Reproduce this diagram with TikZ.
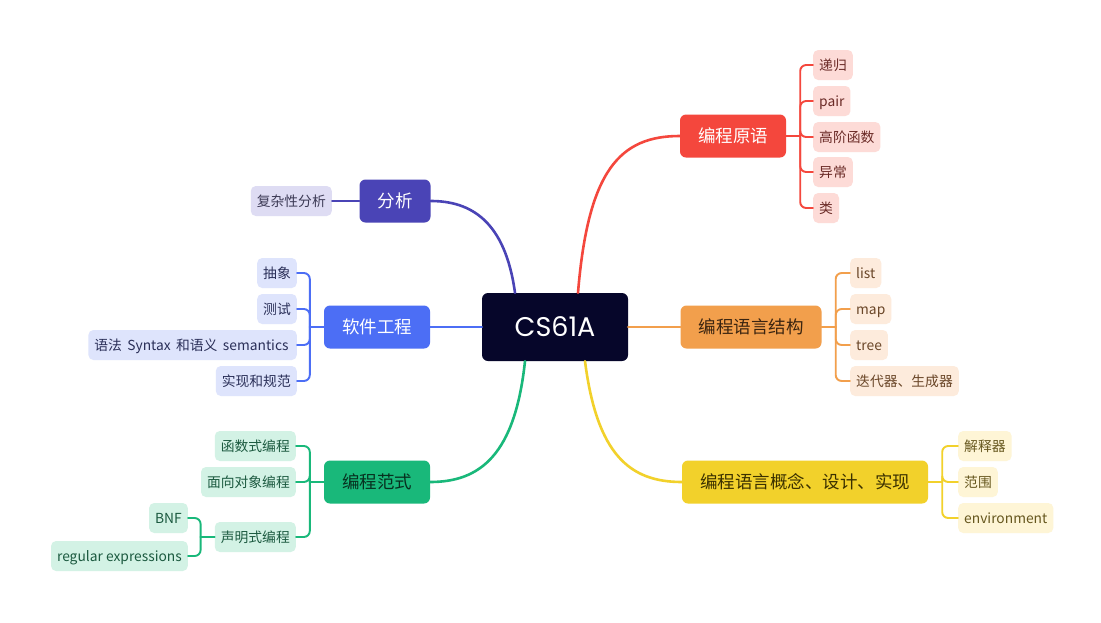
\documentclass[tikz,border=0pt]{standalone}
\usepackage{fontspec}
\setmainfont{Noto Sans CJK SC}
\newfontfamily\rootfont{Poppins}
\begin{document}
\begin{tikzpicture}[x=1pt,y=-1pt,
  root/.style={fill=cRoot,rounded corners=6pt,minimum width=146pt,minimum height=68pt,text=white,font=\rootfont\fontsize{27}{32}\selectfont,inner sep=0pt},
  cat/.style={rounded corners=6pt,minimum height=43pt,inner xsep=18pt,inner ysep=0pt,font=\fontsize{17.5}{20}\selectfont,text height=14pt,text depth=1.5pt},
  leaf/.style={rounded corners=5pt,minimum height=30pt,inner xsep=6pt,inner ysep=0pt,font=\fontsize{13.8}{16}\selectfont,text height=11.8pt,text depth=1.6pt},
  mainline/.style={line width=2.6pt,line cap=round},
  subline/.style={line width=1.9pt,rounded corners=6pt,line cap=round}
]
\definecolor{cRoot}{HTML}{06062A}
\definecolor{cRed}{HTML}{F4473D}\definecolor{cRedF}{HTML}{FDDBD7}\definecolor{cRedT}{HTML}{6A2A26}
\definecolor{cOr}{HTML}{F29F4C}\definecolor{cOrF}{HTML}{FDEBDC}\definecolor{cOrT}{HTML}{6A4628}\definecolor{cOrM}{HTML}{3A2410}
\definecolor{cYe}{HTML}{F2D12B}\definecolor{cYeF}{HTML}{FEF5D6}\definecolor{cYeT}{HTML}{66571E}\definecolor{cYeM}{HTML}{3A3000}
\definecolor{cPu}{HTML}{4A44B6}\definecolor{cPuF}{HTML}{DEDCF3}\definecolor{cPuT}{HTML}{3C3A55}
\definecolor{cBl}{HTML}{4C6EF5}\definecolor{cBlF}{HTML}{DEE4FC}\definecolor{cBlT}{HTML}{2A2F58}
\definecolor{cGr}{HTML}{19B87A}\definecolor{cGrF}{HTML}{D3F2E5}\definecolor{cGrT}{HTML}{1C5A40}\definecolor{cGrM}{HTML}{07301F}

\useasboundingbox (0,0) rectangle (1101,622);
\fill[white] (0,0) rectangle (1101,622);

% root
\node[root] (root) at (555,327) {CS61A};

% categories
\node[cat,fill=cRed,text=white] (prim) at (733,136) {编程原语};
\node[cat,fill=cOr,text=cOrM] (struct) at (751,327) {编程语言结构};
\node[cat,fill=cYe,text=cYeM] (concept) at (805,482) {编程语言概念、设计、实现};
\node[cat,fill=cPu,text=white] (anal) at (395,201) {分析};
\node[cat,fill=cBl,text=white] (soft) at (377,327) {软件工程};
\node[cat,fill=cGr,text=cGrM] (para) at (377,482) {编程范式};

% main connectors
\draw[mainline,cRed] ([xshift=23pt]root.north) .. controls (588,170) and (620,136) .. (prim.west);
\draw[mainline,cOr] (root.east) -- (struct.west);
\draw[mainline,cYe] ([xshift=30pt]root.south) .. controls (597,455) and (630,482) .. (concept.west);
\draw[mainline,cPu] ([xshift=-40pt]root.north) .. controls (505,220) and (470,201) .. (anal.east);
\draw[mainline,cBl] (root.west) -- (soft.east);
\draw[mainline,cGr] ([xshift=-30pt]root.south) .. controls (515,455) and (480,482) .. (para.east);

% red leaves
\node[leaf,fill=cRedF,text=cRedT,anchor=west] (r1) at (813,65) {递归};
\node[leaf,fill=cRedF,text=cRedT,anchor=west] (r2) at (813,101) {pair};
\node[leaf,fill=cRedF,text=cRedT,anchor=west] (r3) at (813,137) {高阶函数};
\node[leaf,fill=cRedF,text=cRedT,anchor=west] (r4) at (813,172) {异常};
\node[leaf,fill=cRedF,text=cRedT,anchor=west] (r5) at (813,208) {类};
\draw[subline,cRed] (prim.east) -- ++(14,0) coordinate (rs);
\foreach \c in {r1,r2,r3,r4,r5} \draw[subline,cRed] (rs) |- (\c.west);

% orange leaves
\node[leaf,fill=cOrF,text=cOrT,anchor=west] (o1) at (850,273) {list};
\node[leaf,fill=cOrF,text=cOrT,anchor=west] (o2) at (850,309) {map};
\node[leaf,fill=cOrF,text=cOrT,anchor=west] (o3) at (850,345) {tree};
\node[leaf,fill=cOrF,text=cOrT,anchor=west] (o4) at (850,381) {迭代器、生成器};
\draw[subline,cOr] (struct.east) -- ++(14,0) coordinate (os);
\foreach \c in {o1,o2,o3,o4} \draw[subline,cOr] (os) |- (\c.west);

% yellow leaves
\node[leaf,fill=cYeF,text=cYeT,anchor=west] (y1) at (958,446) {解释器};
\node[leaf,fill=cYeF,text=cYeT,anchor=west] (y2) at (958,482) {范围};
\node[leaf,fill=cYeF,text=cYeT,anchor=west] (y3) at (958,518) {environment};
\draw[subline,cYe] (concept.east) -- ++(14,0) coordinate (ys);
\foreach \c in {y1,y2,y3} \draw[subline,cYe] (ys) |- (\c.west);

% purple leaf
\node[leaf,fill=cPuF,text=cPuT,anchor=east] (p1) at (332,201) {复杂性分析};
\draw[subline,cPu] (anal.west) -- (p1.east);

% blue leaves
\node[leaf,fill=cBlF,text=cBlT,anchor=east] (b1) at (297,273) {抽象};
\node[leaf,fill=cBlF,text=cBlT,anchor=east] (b2) at (297,309) {测试};
\node[leaf,fill=cBlF,text=cBlT,anchor=east] (b3) at (297,345) {语法\ \,Syntax\ \,和语义\ \,semantics\,};
\node[leaf,fill=cBlF,text=cBlT,anchor=east] (b4) at (297,381) {实现和规范};
\draw[subline,cBl] (soft.west) -- ++(-14,0) coordinate (bs);
\foreach \c in {b1,b2,b3,b4} \draw[subline,cBl] (bs) |- (\c.east);

% green leaves
\node[leaf,fill=cGrF,text=cGrT,anchor=east] (g1) at (296,446) {函数式编程};
\node[leaf,fill=cGrF,text=cGrT,anchor=east] (g2) at (296,482) {面向对象编程};
\node[leaf,fill=cGrF,text=cGrT,anchor=east] (g3) at (296,537) {声明式编程};
\draw[subline,cGr] (para.west) -- ++(-14,0) coordinate (gs);
\foreach \c in {g1,g2,g3} \draw[subline,cGr] (gs) |- (\c.east);

\node[leaf,fill=cGrF,text=cGrT,anchor=east] (h1) at (188,518) {BNF};
\node[leaf,fill=cGrF,text=cGrT,anchor=east] (h2) at (188,556) {regular expressions};
\draw[subline,cGr] (g3.west) -- ++(-14,0) coordinate (hs);
\foreach \c in {h1,h2} \draw[subline,cGr] (hs) |- (\c.east);
\end{tikzpicture}
\end{document}
